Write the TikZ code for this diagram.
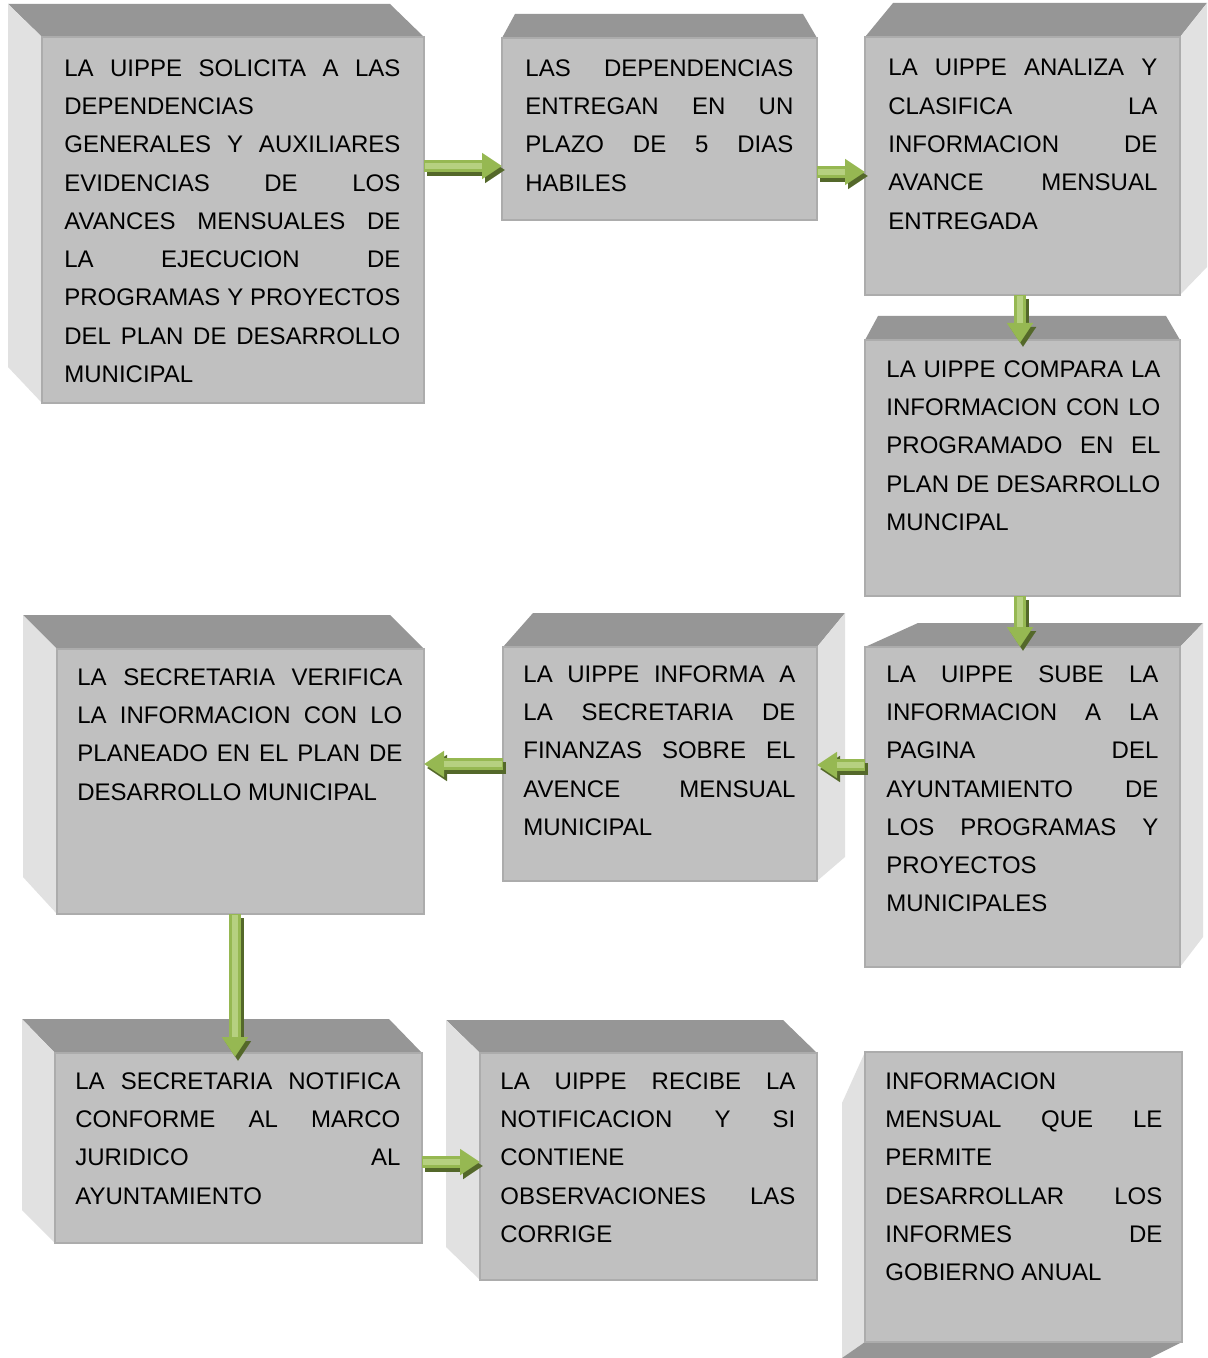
\documentclass[tikz,border=0pt]{standalone}
\usepackage{fontspec}
\setmainfont{Liberation Sans}
\usepackage{tikz}
\usetikzlibrary{arrows.meta}
\definecolor{grisfrente}{RGB}{192,192,192}
\definecolor{grisborde}{RGB}{172,172,172}
\definecolor{gristapa}{RGB}{150,150,150}
\definecolor{grislado}{RGB}{225,225,225}
\definecolor{verde}{RGB}{150,184,82}
\definecolor{verdeclaro}{RGB}{182,208,128}
\definecolor{verdeoscuro}{RGB}{84,104,42}
\tikzstyle{frente}=[rectangle,fill=grisfrente,draw=grisborde,line width=0.6pt,inner sep=0pt,outer sep=0pt]
\tikzstyle{texto}=[anchor=north west,inner sep=0pt,align=justify,font=\fontsize{12}{19.15}\selectfont]
\tikzstyle{tapa}=[fill=gristapa]
\tikzstyle{lado}=[fill=grislado]
\tikzstyle{flecha}=[-{Triangle[width=12.5pt,length=10pt]},line width=6pt,draw=verde]
\tikzstyle{sombra}=[-{Triangle[width=12.5pt,length=10pt]},line width=6pt,draw=verdeoscuro,transform canvas={xshift=1.5pt,yshift=-2pt}]
\tikzstyle{brillo}=[-,line width=3.4pt,draw=verdeclaro,shorten >=10pt,shorten <=0.5pt]
\pgfdeclarelayer{edgelayer}
\pgfdeclarelayer{nodelayer}
\pgfsetlayers{edgelayer,nodelayer,main}
\tolerance=10000
\hbadness=10000
\begin{document}
\begin{tikzpicture}[x=0.5pt,y=-0.5pt]
	\useasboundingbox (0,0) rectangle (1208,1358);
	\begin{pgfonlayer}{nodelayer}
		\node [style=frente, minimum width=191pt, minimum height=183pt] (solicita) at (233, 220) {};
		\node [style=frente, minimum width=157.5pt, minimum height=91pt] (entregan) at (659.5, 129) {};
		\node [style=frente, minimum width=157.5pt, minimum height=129pt] (analiza) at (1022.5, 166) {};
		\node [style=frente, minimum width=157.5pt, minimum height=128pt] (compara) at (1022.5, 468) {};
		\node [style=frente, minimum width=157.5pt, minimum height=160pt] (sube) at (1022.5, 807) {};
		\node [style=frente, minimum width=157pt, minimum height=117pt] (informa) at (660, 764) {};
		\node [style=frente, minimum width=183.5pt, minimum height=132.5pt] (verifica) at (240.5, 781.5) {};
		\node [style=frente, minimum width=183.5pt, minimum height=95pt] (notifica) at (238.5, 1148) {};
		\node [style=frente, minimum width=168.5pt, minimum height=113.5pt] (recibe) at (648.5, 1166.5) {};
		\node [style=frente, minimum width=158.5pt, minimum height=145pt] (anual) at (1023.5, 1197) {};

		\node [style=texto, text width=168pt] (solicitaT) at ([shift={(22,22)}]solicita.north west) {LA UIPPE SOLICITA A LAS\linebreak DEPENDENCIAS\linebreak GENERALES Y AUXILIARES\linebreak EVIDENCIAS DE LOS\linebreak AVANCES MENSUALES DE\linebreak LA EJECUCION DE\linebreak PROGRAMAS Y PROYECTOS\linebreak DEL PLAN DE DESARROLLO\linebreak MUNICIPAL};
		\node [style=texto, text width=134pt] (entreganT) at ([shift={(23,21)}]entregan.north west) {LAS DEPENDENCIAS\linebreak ENTREGAN EN UN\linebreak PLAZO DE 5 DIAS\linebreak HABILES};
		\node [style=texto, text width=134.5pt] (analizaT) at ([shift={(23,22)}]analiza.north west) {LA UIPPE ANALIZA Y\linebreak CLASIFICA LA\linebreak INFORMACION DE\linebreak AVANCE MENSUAL\linebreak ENTREGADA};
		\node [style=texto, text width=137pt] (comparaT) at ([shift={(21,20)}]compara.north west) {LA UIPPE COMPARA LA\linebreak INFORMACION CON LO\linebreak PROGRAMADO EN EL\linebreak PLAN DE DESARROLLO\linebreak MUNCIPAL};
		\node [style=texto, text width=136pt] (subeT) at ([shift={(21,18)}]sube.north west) {LA UIPPE SUBE LA\linebreak INFORMACION A LA\linebreak PAGINA DEL\linebreak AYUNTAMIENTO DE\linebreak LOS PROGRAMAS Y\linebreak PROYECTOS\linebreak MUNICIPALES};
		\node [style=texto, text width=136pt] (informaT) at ([shift={(20,18)}]informa.north west) {LA UIPPE INFORMA A\linebreak LA SECRETARIA DE\linebreak FINANZAS SOBRE EL\linebreak AVENCE MENSUAL\linebreak MUNICIPAL};
		\node [style=texto, text width=162.5pt] (verificaT) at ([shift={(20,19)}]verifica.north west) {LA SECRETARIA VERIFICA\linebreak LA INFORMACION CON LO\linebreak PLANEADO EN EL PLAN DE\linebreak DESARROLLO MUNICIPAL};
		\node [style=texto, text width=162.5pt] (notificaT) at ([shift={(20,19)}]notifica.north west) {LA SECRETARIA NOTIFICA\linebreak CONFORME AL MARCO\linebreak JURIDICO AL\linebreak AYUNTAMIENTO};
		\node [style=texto, text width=147.5pt] (recibeT) at ([shift={(20,19)}]recibe.north west) {LA UIPPE RECIBE LA\linebreak NOTIFICACION Y SI\linebreak CONTIENE\linebreak OBSERVACIONES LAS\linebreak CORRIGE};
		\node [style=texto, text width=138.5pt] (anualT) at ([shift={(20,20)}]anual.north west) {INFORMACION\linebreak MENSUAL QUE LE\linebreak PERMITE\linebreak DESARROLLAR LOS\linebreak INFORMES DE\linebreak GOBIERNO ANUAL};
	\end{pgfonlayer}
	\begin{pgfonlayer}{edgelayer}
		\fill [white] (0,0) rectangle (1208,1358);
		\fill [style=tapa] (solicita.north west) -- (solicita.north east) -- ([shift={(-34,-33)}]solicita.north east) -- ([shift={(-34,-33)}]solicita.north west) -- cycle;
		\fill [style=lado] (solicita.north west) -- ([shift={(-34,-33)}]solicita.north west) -- ([shift={(-34,-36)}]solicita.south west) -- (solicita.south west) -- cycle;
		\fill [style=tapa] (entregan.north west) -- (entregan.north east) -- ([shift={(-14,-24)}]entregan.north east) -- ([shift={(13,-24)}]entregan.north west) -- cycle;
		\fill [style=tapa] (analiza.north west) -- (analiza.north east) -- ([shift={(27,-34)}]analiza.north east) -- ([shift={(28,-34)}]analiza.north west) -- cycle;
		\fill [style=lado] (analiza.north east) -- ([shift={(27,-34)}]analiza.north east) -- ([shift={(27,-28)}]analiza.south east) -- (analiza.south east) -- cycle;
		\fill [style=tapa] (compara.north west) -- (compara.north east) -- ([shift={(-14,-24)}]compara.north east) -- ([shift={(13,-24)}]compara.north west) -- cycle;
		\fill [style=tapa] (sube.north west) -- (sube.north east) -- ([shift={(23,-24)}]sube.north east) -- ([shift={(53,-24)}]sube.north west) -- cycle;
		\fill [style=lado] (sube.north east) -- ([shift={(23,-24)}]sube.north east) -- ([shift={(23,-30)}]sube.south east) -- (sube.south east) -- cycle;
		\fill [style=tapa] (informa.north west) -- (informa.north east) -- ([shift={(28,-34)}]informa.north east) -- ([shift={(30,-34)}]informa.north west) -- cycle;
		\fill [style=lado] (informa.north east) -- ([shift={(28,-34)}]informa.north east) -- ([shift={(28,-24)}]informa.south east) -- (informa.south east) -- cycle;
		\fill [style=tapa] (verifica.north west) -- (verifica.north east) -- ([shift={(-34,-34)}]verifica.north east) -- ([shift={(-34,-34)}]verifica.north west) -- cycle;
		\fill [style=lado] (verifica.north west) -- ([shift={(-34,-34)}]verifica.north west) -- ([shift={(-34,-37)}]verifica.south west) -- (verifica.south west) -- cycle;
		\fill [style=tapa] (notifica.north west) -- (notifica.north east) -- ([shift={(-33,-34)}]notifica.north east) -- ([shift={(-33,-34)}]notifica.north west) -- cycle;
		\fill [style=lado] (notifica.north west) -- ([shift={(-33,-34)}]notifica.north west) -- ([shift={(-33,-33)}]notifica.south west) -- (notifica.south west) -- cycle;
		\fill [style=tapa] (recibe.north west) -- (recibe.north east) -- ([shift={(-34,-33)}]recibe.north east) -- ([shift={(-34,-33)}]recibe.north west) -- cycle;
		\fill [style=lado] (recibe.north west) -- ([shift={(-34,-33)}]recibe.north west) -- ([shift={(-34,-33)}]recibe.south west) -- (recibe.south west) -- cycle;
		\fill [style=lado] (anual.north west) -- ([shift={(-23,51)}]anual.north west) -- ([shift={(-23,16)}]anual.south west) -- (anual.south west) -- cycle;
		\fill [style=tapa] (anual.south west) -- (anual.south east) -- ([shift={(-32,16)}]anual.south east) -- ([shift={(-23,16)}]anual.south west) -- cycle;
	\end{pgfonlayer}
	\draw [style=sombra] (solicita.east |- 0,166) to (entregan.west |- 0,166);
	\draw [style=flecha] (solicita.east |- 0,166) to (entregan.west |- 0,166);
	\draw [style=brillo] (solicita.east |- 0,166) to (entregan.west |- 0,166);
	\draw [style=sombra] (entregan.east |- 0,172) to (analiza.west |- 0,172);
	\draw [style=flecha] (entregan.east |- 0,172) to (analiza.west |- 0,172);
	\draw [style=brillo] (entregan.east |- 0,172) to (analiza.west |- 0,172);
	\draw [style=sombra] (analiza.south -| 1020,0) to ([yshift=-1.5pt]compara.north -| 1020,0);
	\draw [style=flecha] (analiza.south -| 1020,0) to ([yshift=-1.5pt]compara.north -| 1020,0);
	\draw [style=brillo] (analiza.south -| 1020,0) to ([yshift=-1.5pt]compara.north -| 1020,0);
	\draw [style=sombra] (compara.south -| 1020,0) to (sube.north -| 1020,0);
	\draw [style=flecha] (compara.south -| 1020,0) to (sube.north -| 1020,0);
	\draw [style=brillo] (compara.south -| 1020,0) to (sube.north -| 1020,0);
	\draw [style=sombra] (sube.west |- 0,765) to (informa.east |- 0,765);
	\draw [style=flecha] (sube.west |- 0,765) to (informa.east |- 0,765);
	\draw [style=brillo] (sube.west |- 0,765) to (informa.east |- 0,765);
	\draw [style=sombra] (informa.west |- 0,764) to (verifica.east |- 0,764);
	\draw [style=flecha] (informa.west |- 0,764) to (verifica.east |- 0,764);
	\draw [style=brillo] (informa.west |- 0,764) to (verifica.east |- 0,764);
	\draw [style=sombra] (verifica.south -| 235,0) to ([yshift=-2pt]notifica.north -| 235,0);
	\draw [style=flecha] (verifica.south -| 235,0) to ([yshift=-2pt]notifica.north -| 235,0);
	\draw [style=brillo] (verifica.south -| 235,0) to ([yshift=-2pt]notifica.north -| 235,0);
	\draw [style=sombra] (notifica.east |- 0,1162) to (recibe.west |- 0,1162);
	\draw [style=flecha] (notifica.east |- 0,1162) to (recibe.west |- 0,1162);
	\draw [style=brillo] (notifica.east |- 0,1162) to (recibe.west |- 0,1162);
\end{tikzpicture}
\end{document}
